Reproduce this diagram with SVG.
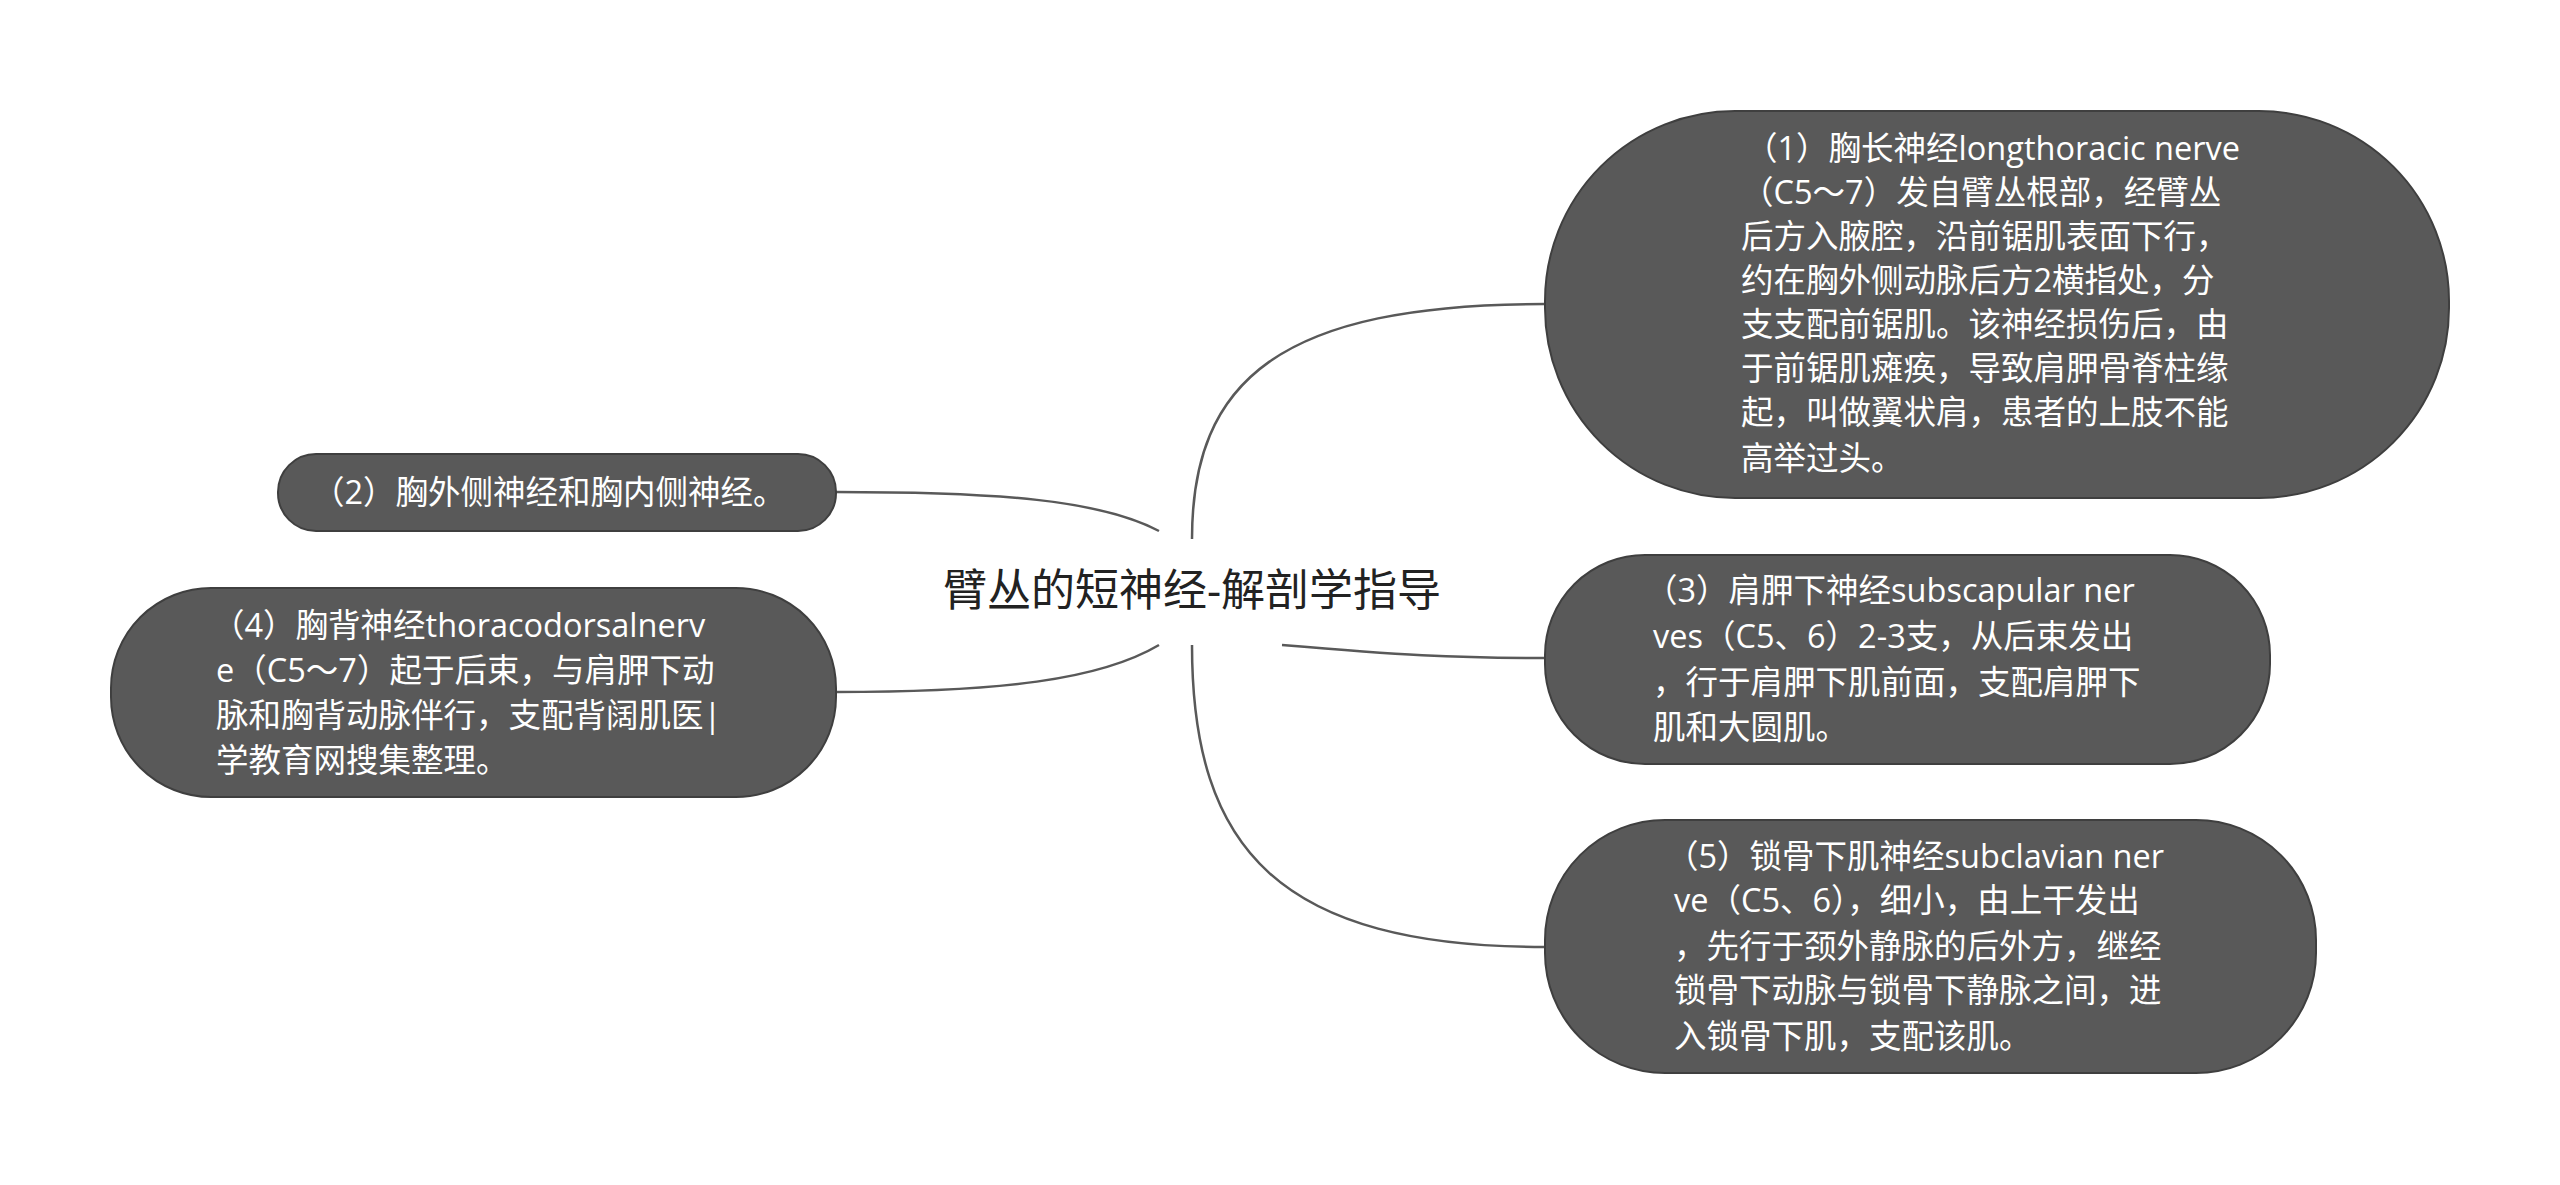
<svg xmlns="http://www.w3.org/2000/svg" width="2560" height="1185" viewBox="0 0 2560 1185">
<style>
.n{fill:#595959;stroke:#3f3f3f;stroke-width:2}
.t{font-family:"Open Sans","Noto Sans CJK SC",sans-serif;font-size:32.5px;fill:#fff}
.c{fill:none;stroke:#595959;stroke-width:2.5}
</style>
<rect width="2560" height="1185" fill="#fff"/>
<g id="connectors">
<path class="c" d="M1192,539 C1192,380 1280,304 1545,304"/>
<path class="c" d="M1159,531 C1100,500 1000,492 836,492"/>
<path class="c" d="M1159,645 C1100,680 1000,692 836,692"/>
<path class="c" d="M1282,645 C1400,655 1450,658 1545,658"/>
<path class="c" d="M1192,645 C1192,850 1280,947 1545,947"/>
</g>
<g id="center"><text x="1192" y="606" text-anchor="middle" font-family="'Open Sans','Noto Sans CJK SC',sans-serif" font-size="44" fill="#222">臂丛的短神经-解剖学指导</text></g>
<g id="node1"><rect class="n" x="1545" y="111" width="904" height="387" rx="190"/>
<text class="t"><tspan x="1745" y="160">（1）胸长神经longthoracic nerve</tspan><tspan x="1741" y="204">（C5～7）发自臂丛根部，经臂丛</tspan><tspan x="1741" y="248">后方入腋腔，沿前锯肌表面下行，</tspan><tspan x="1741" y="292">约在胸外侧动脉后方2横指处，分</tspan><tspan x="1741" y="336">支支配前锯肌。该神经损伤后，由</tspan><tspan x="1741" y="380">于前锯肌瘫痪，导致肩胛骨脊柱缘</tspan><tspan x="1741" y="424">起，叫做翼状肩，患者的上肢不能</tspan><tspan x="1741" y="470">高举过头。</tspan></text></g>
<g id="node2"><rect class="n" x="278" y="454" width="558" height="77" rx="38"/>
<text class="t" x="312" y="504">（2）胸外侧神经和胸内侧神经。</text></g>
<g id="node4"><rect class="n" x="111" y="588" width="725" height="209" rx="100"/>
<text class="t"><tspan x="212" y="637">（4）胸背神经thoracodorsalnerv</tspan><tspan x="216" y="682">e（C5～7）起于后束，与肩胛下动</tspan><tspan x="216" y="727">脉和胸背动脉伴行，支配背阔肌医|</tspan><tspan x="216" y="772">学教育网搜集整理。</tspan></text></g>
<g id="node3"><rect class="n" x="1545" y="555" width="725" height="209" rx="100"/>
<text class="t"><tspan x="1645" y="602">（3）肩胛下神经subscapular ner</tspan><tspan x="1653" y="648">ves（C5、6）2-3支，从后束发出</tspan><tspan x="1653" y="694">，行于肩胛下肌前面，支配肩胛下</tspan><tspan x="1653" y="739">肌和大圆肌。</tspan></text></g>
<g id="node5"><rect class="n" x="1545" y="820" width="771" height="253" rx="120"/>
<text class="t"><tspan x="1666" y="868">（5）锁骨下肌神经subclavian ner</tspan><tspan x="1674" y="912">ve（C5、6），细小，由上干发出</tspan><tspan x="1674" y="958">，先行于颈外静脉的后外方，继经</tspan><tspan x="1674" y="1002">锁骨下动脉与锁骨下静脉之间，进</tspan><tspan x="1674" y="1048">入锁骨下肌，支配该肌。</tspan></text></g>
</svg>
